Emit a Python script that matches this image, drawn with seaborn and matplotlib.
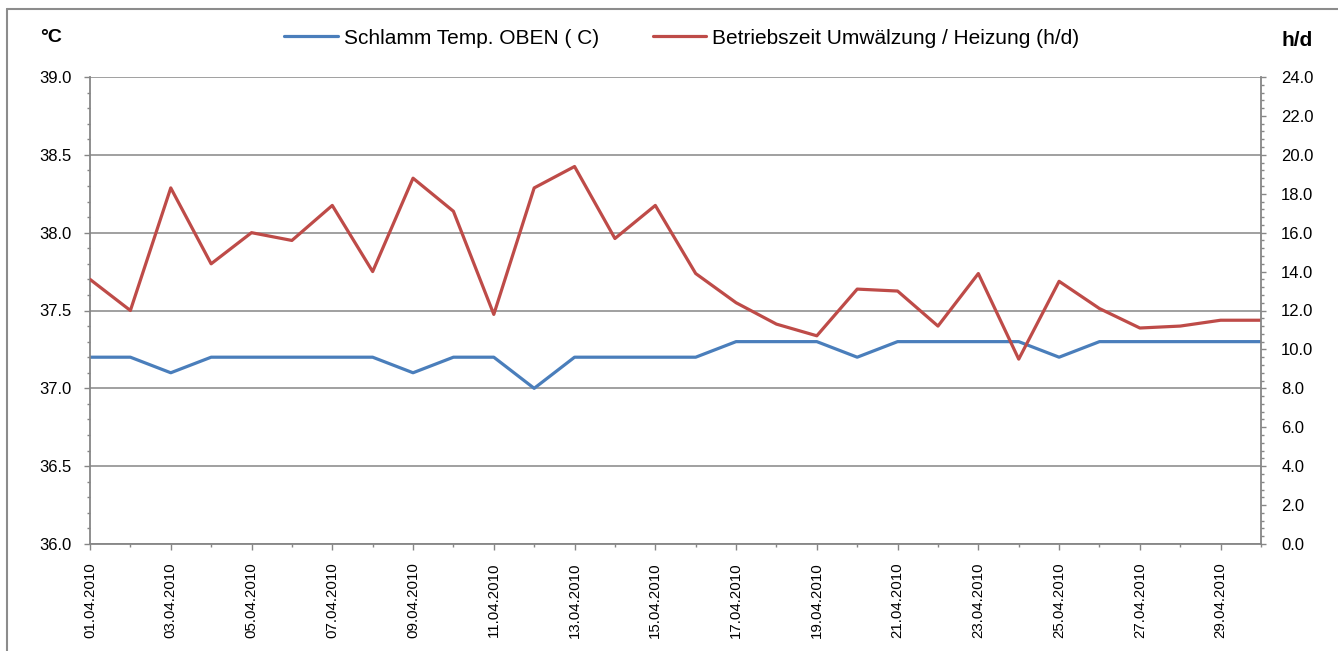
import numpy as np
import pandas as pd
import matplotlib
matplotlib.use("Agg")
import matplotlib.pyplot as plt
from matplotlib.ticker import MultipleLocator, FormatStrFormatter
from matplotlib.lines import Line2D
import seaborn as sns


dates = [f"{d:02d}.04.2010" for d in range(1, 31)]

temp_oben = [37.2, 37.2, 37.1, 37.2, 37.2, 37.2, 37.2, 37.2, 37.1, 37.2,
             37.2, 37.0, 37.2, 37.2, 37.2, 37.2, 37.3, 37.3, 37.3, 37.2,
             37.3, 37.3, 37.3, 37.3, 37.2, 37.3, 37.3, 37.3, 37.3, 37.3]

betriebszeit = [13.6, 12.0, 18.3, 14.4, 16.0, 15.6, 17.4, 14.0, 18.8, 17.1,
                11.8, 18.3, 19.4, 15.7, 17.4, 13.9, 12.4, 11.3, 10.7, 13.1,
                13.0, 11.2, 13.9, 9.5, 13.5, 12.1, 11.1, 11.2, 11.5, 11.5]

label_temp = "Schlamm Temp. OBEN ( C)"
label_zeit = "Betriebszeit Umwälzung / Heizung (h/d)"

df = pd.DataFrame({
    "x": np.arange(len(dates)),
    "temp": temp_oben,
    "zeit": betriebszeit,
})

blue = "#4A7EBB"
red = "#BE4B48"
grey = "#868686"

sns.set_style("white")
plt.rcParams["font.family"] = ["Liberation Sans", "DejaVu Sans"]
plt.rcParams["text.color"] = "black"

fig = plt.figure(figsize=(13.38, 6.51), dpi=100)
ax = fig.add_axes([90 / 1338, 1 - 544 / 651, (1261 - 90) / 1338, (544 - 77) / 651])
ax2 = ax.twinx()

sns.lineplot(data=df, x="x", y="temp", ax=ax, color=blue, linewidth=2.3)
sns.lineplot(data=df, x="x", y="zeit", ax=ax2, color=red, linewidth=2.3)

# left axis
ax.set_ylim(36.0, 39.0)
ax.yaxis.set_major_locator(MultipleLocator(0.5))
ax.yaxis.set_minor_locator(MultipleLocator(0.1))
ax.yaxis.set_major_formatter(FormatStrFormatter("%.1f"))
ax.grid(axis="y", which="major", color=grey, linewidth=1.1)
ax.set_axisbelow(True)

# right axis
ax2.set_ylim(0, 24)
ax2.yaxis.set_major_locator(MultipleLocator(2))
ax2.yaxis.set_minor_locator(MultipleLocator(0.4))
ax2.yaxis.set_major_formatter(FormatStrFormatter("%.1f"))

# x axis
ax.set_xlim(0, len(dates) - 1)
ax.set_xticks(df["x"][::2])
ax.set_xticklabels(dates[::2], rotation=90)
ax.set_xticks(df["x"], minor=True)

for a in (ax, ax2):
    a.set_xlabel("")
    a.set_ylabel("")
    for s in a.spines.values():
        s.set_visible(False)

ax.spines["left"].set_visible(True)
ax.spines["bottom"].set_visible(True)
ax2.spines["right"].set_visible(True)
for s in (ax.spines["left"], ax.spines["bottom"], ax2.spines["right"]):
    s.set_color(grey)
    s.set_linewidth(1.3)

ax.tick_params(axis="y", which="major", direction="out", length=4.5, width=1,
               color=grey, labelcolor="black", labelsize=12, pad=9, left=True)
ax.tick_params(axis="y", which="minor", direction="out", length=2.5, width=1,
               color=grey, left=True)
ax.tick_params(axis="x", which="major", direction="out", length=4, width=1,
               color=grey, labelcolor="black", labelsize=10.8, pad=9, bottom=True)
ax.tick_params(axis="x", which="minor", direction="out", length=2.5, width=1,
               color=grey, bottom=True)
ax2.tick_params(axis="y", which="major", direction="out", length=3.5, width=1,
                color=grey, labelcolor="black", labelsize=12, pad=11, right=True)
ax2.tick_params(axis="y", which="minor", direction="out", length=2.5, width=1,
                color=grey, right=True)

# axis unit labels
fig.text(51 / 1338, 1 - 38 / 651, "°C", fontsize=14, fontweight="bold",
         ha="center", va="center")
fig.text(1297 / 1338, 1 - 40 / 651, "h/d", fontsize=15, fontweight="bold",
         ha="center", va="center")

handles = [Line2D([], [], color=blue, linewidth=2.3),
           Line2D([], [], color=red, linewidth=2.3)]
fig.legend(handles, [label_temp, label_zeit], loc="center",
           bbox_to_anchor=(682 / 1338, 1 - 38 / 651), ncol=2, frameon=False,
           fontsize=15, handlelength=2.55, handletextpad=0.3,
           columnspacing=2.6)

# outer chart frame
fig.add_artist(Line2D([7 / 1338, 1], [1 - 9 / 651, 1 - 9 / 651],
                      transform=fig.transFigure, color="#8C8C8C", linewidth=1.5))
fig.add_artist(Line2D([7 / 1338, 7 / 1338], [0, 1 - 9 / 651],
                      transform=fig.transFigure, color="#8C8C8C", linewidth=1.5))

fig.savefig("out.png", dpi=100)
